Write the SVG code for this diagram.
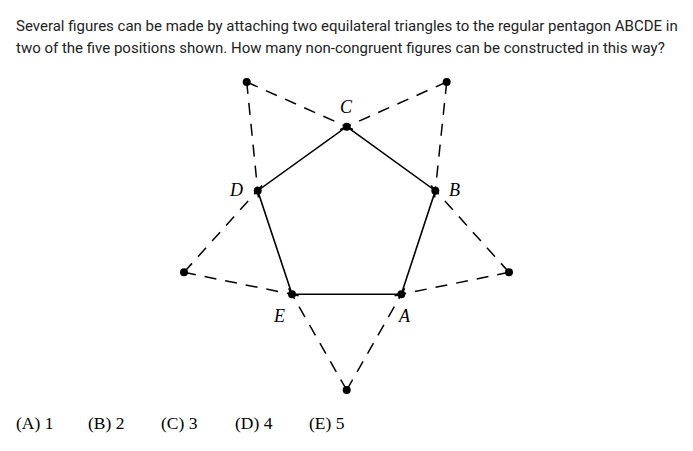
<svg xmlns="http://www.w3.org/2000/svg" width="693" height="451" viewBox="0 0 693 451">
<style>
.q{font-family:Roboto,"Liberation Sans",sans-serif;font-size:15px;fill:#222}
.lbl{font-family:"Liberation Serif","DejaVu Serif",serif;font-style:italic;font-size:18px;fill:#000}
.ans{font-family:"Liberation Serif","DejaVu Serif",serif;font-size:17.5px;fill:#000}
.solid{stroke:#000;stroke-width:1.6;fill:none}
.dash{stroke:#000;stroke-width:1.5;fill:none;stroke-dasharray:12 9}
.pt{fill:#000}
</style>
<rect width="693" height="451" fill="#fff"/>
<g id="question">
<text class="q" x="16" y="30.5">Several figures can be made by attaching two equilateral triangles to the regular pentagon ABCDE in</text>
<text class="q" x="16" y="52.5">two of the five positions shown. How many non-congruent figures can be constructed in this way?</text>
</g>
<g id="connectors">
<polygon class="solid" points="346.7,126.7 435.3,190.7 401.3,294.3 292,294.3 257.7,190.7"/>
<line class="dash" x1="246.7" y1="82" x2="353" y2="129.5"/>
<line class="dash" x1="246.7" y1="82" x2="258.4" y2="197.5"/>
<line class="dash" x1="446.7" y1="82" x2="340" y2="129.6"/>
<line class="dash" x1="446.7" y1="82" x2="434.6" y2="197.5"/>
<line class="dash" x1="184" y1="272.3" x2="262" y2="185.5"/>
<line class="dash" x1="184" y1="272.3" x2="298.7" y2="295.7"/>
<line class="dash" x1="509" y1="272.3" x2="431" y2="185.5"/>
<line class="dash" x1="509" y1="272.3" x2="394.6" y2="295.7"/>
<line class="dash" x1="346.7" y1="390" x2="288.6" y2="288.4"/>
<line class="dash" x1="346.7" y1="390" x2="404.7" y2="288.4"/>
</g>
<g id="points">
<circle class="pt" cx="346.7" cy="126.7" r="4"/>
<circle class="pt" cx="435.3" cy="190.7" r="4"/>
<circle class="pt" cx="401.3" cy="294.3" r="4"/>
<circle class="pt" cx="292" cy="294.3" r="4"/>
<circle class="pt" cx="257.7" cy="190.7" r="4"/>
<circle class="pt" cx="246.7" cy="82" r="4"/>
<circle class="pt" cx="446.7" cy="82" r="4"/>
<circle class="pt" cx="184" cy="272.3" r="4"/>
<circle class="pt" cx="509" cy="272.3" r="4"/>
<circle class="pt" cx="346.7" cy="390" r="4"/>
</g>
<g id="node-C"><text class="lbl" x="346" y="113" text-anchor="middle">C</text></g>
<g id="node-B"><text class="lbl" x="449" y="196">B</text></g>
<g id="node-A"><text class="lbl" x="399" y="322">A</text></g>
<g id="node-E"><text class="lbl" x="274" y="322">E</text></g>
<g id="node-D"><text class="lbl" x="230" y="196">D</text></g>
<g id="answers">
<text class="ans" x="16" y="429">(A) 1</text>
<text class="ans" x="88" y="429">(B) 2</text>
<text class="ans" x="161" y="429">(C) 3</text>
<text class="ans" x="235" y="429">(D) 4</text>
<text class="ans" x="309" y="429">(E) 5</text>
</g>
</svg>
